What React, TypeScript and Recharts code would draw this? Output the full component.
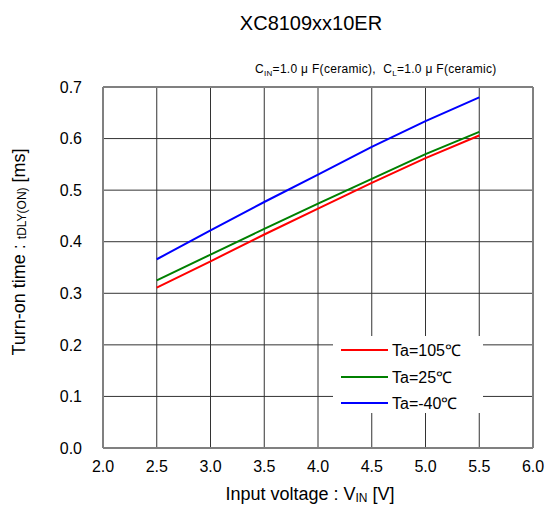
import { LineChart, Line, XAxis, YAxis, CartesianGrid, ReferenceLine, Label } from "recharts";

const vin = [2.5, 3.0, 3.5, 4.0, 4.5, 5.0, 5.5];
const ta105 = [0.311, 0.362, 0.414, 0.464, 0.514, 0.562, 0.606];
const ta25 = [0.325, 0.375, 0.425, 0.474, 0.522, 0.57, 0.613];
const taM40 = [0.366, 0.422, 0.477, 0.53, 0.584, 0.634, 0.68];

const xTicks = [2.0, 2.5, 3.0, 3.5, 4.0, 4.5, 5.0, 5.5, 6.0];
const yTicks = [0, 0.1, 0.2, 0.3, 0.4, 0.5, 0.6, 0.7];

const series = [
  { key: "t105", name: "Ta=105℃", color: "#ff0000" },
  { key: "t25", name: "Ta=25℃", color: "#008000" },
  { key: "tm40", name: "Ta=-40℃", color: "#0000ff" },
];

const data = vin.map((v, i) => ({ vin: v, t105: ta105[i], t25: ta25[i], tm40: taM40[i] }));

const FONT = "'Liberation Sans', Arial, sans-serif";

// legend is drawn as plain html on top of the chart so it covers the grid
function LegendBox() {
  return (
    <div style={{ position: "absolute", left: 333, top: 336, background: "#fff", width: 150, height: 77, paddingTop: 1, boxSizing: "border-box" }}>
      {series.map((s) => (
        <div key={s.key} style={{ display: "flex", alignItems: "center", height: 26.5 }}>
          <div style={{ width: 47, height: 2, background: s.color, marginLeft: 8, marginRight: 4 }} />
          <span style={{ fontSize: 16, color: "#000" }}>{s.name}</span>
        </div>
      ))}
    </div>
  );
}

function YTitle() {
  return (
    <text x={19} y={252} transform="rotate(-90 19 252)" textAnchor="middle" dominantBaseline="central" fontFamily={FONT} fontSize={18} fill="#000">
      Turn-on time : <tspan fontSize={12} dy={3}>tDLY(ON)</tspan>
      <tspan dy={-3}> [ms]</tspan>
    </text>
  );
}

function XTitle() {
  return (
    <text x={310} y={500} textAnchor="middle" fontFamily={FONT} fontSize={18} fill="#000">
      Input voltage : V<tspan fontSize={12} dy={2}>IN</tspan>
      <tspan dy={-2}> [V]</tspan>
    </text>
  );
}

export default function App() {
  return (
    <div style={{ position: "absolute", left: 0, top: 0, width: 546, height: 506, background: "#fff", fontFamily: FONT }}>
      <div style={{ position: "absolute", left: 0, width: 546, top: 12, textAlign: "center", paddingLeft: 76, boxSizing: "border-box", fontSize: 20, color: "#000" }}>
        XC8109xx10ER
      </div>
      <div style={{ position: "absolute", left: 255, top: 62, fontSize: 12, color: "#000", whiteSpace: "nowrap", letterSpacing: 0.3 }}>
        C<sub style={{ fontSize: 8 }}>IN</sub>=1.0 μ F(ceramic),&nbsp; C<sub style={{ fontSize: 8 }}>L</sub>=1.0 μ F(ceramic)
      </div>
      <LineChart width={546} height={506} data={data} margin={{ top: 87, right: 13, bottom: 28, left: 43 }}>
        <CartesianGrid stroke="#333" strokeWidth={1} horizontalValues={yTicks} verticalValues={xTicks} />
        <XAxis
          dataKey="vin"
          type="number"
          domain={[2, 6]}
          ticks={xTicks}
          tickFormatter={(v: number) => v.toFixed(1)}
          height={30}
          tickSize={0}
          tickMargin={13}
          axisLine={{ stroke: "#808080", strokeWidth: 2 }}
          tick={{ fill: "#000", fontSize: 16, fontFamily: FONT }}
        >
          <Label content={<XTitle />} />
        </XAxis>
        <YAxis
          type="number"
          domain={[0, 0.7]}
          ticks={yTicks}
          tickFormatter={(v: number) => v.toFixed(1)}
          width={60}
          tickSize={0}
          tickMargin={21}
          axisLine={{ stroke: "#808080", strokeWidth: 2 }}
          tick={{ fill: "#000", fontSize: 16, fontFamily: FONT }}
        >
          <Label content={<YTitle />} />
        </YAxis>
        <ReferenceLine y={0.7} stroke="#808080" strokeWidth={2} />
        <ReferenceLine x={6} stroke="#808080" strokeWidth={2} />
        {series.map((s) => (
          <Line key={s.key} dataKey={s.key} name={s.name} stroke={s.color} strokeWidth={2} dot={false} type="linear" isAnimationActive={false} />
        ))}
      </LineChart>
      <LegendBox />
    </div>
  );
}
